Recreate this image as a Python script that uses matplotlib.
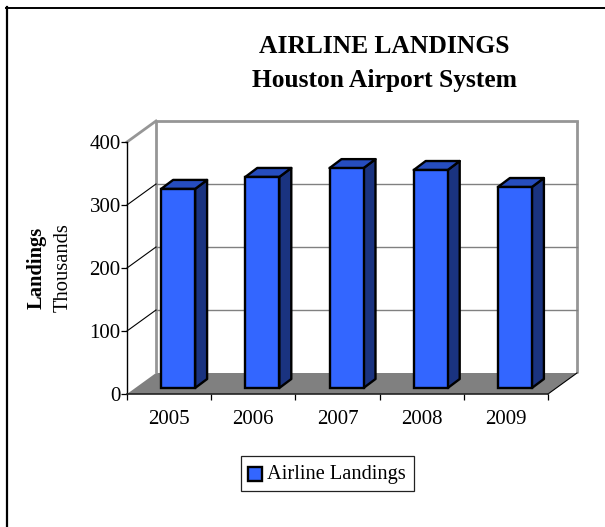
import matplotlib
matplotlib.use("Agg")
import matplotlib.pyplot as plt
from matplotlib.lines import Line2D
from matplotlib.patches import Polygon, Rectangle
from matplotlib.transforms import Affine2D

years = ["2005", "2006", "2007", "2008", "2009"]
landings = [316, 335, 349, 346, 319]
y_ticks = [0, 100, 200, 300, 400]

W, H = 605, 527
plt.rcParams["font.family"] = ["Liberation Serif"]
fig = plt.figure(figsize=(W / 100, H / 100), dpi=100, facecolor="white")

# front plane of the 3-D box, in pixels from top-left
L, R, T, B = 127, 548, 142, 394
ax = fig.add_axes([L / W, 1 - B / H, (R - L) / W, (B - T) / H])
ax.set_xlim(0, len(years))
ax.set_ylim(0, 400)
ax.patch.set_visible(False)
for s in ax.spines.values():
    s.set_visible(False)

px_x = len(years) / (R - L)
px_y = 400 / (B - T)
DX, DY = 29 * px_x, 21 * px_y  # box depth
ddx, ddy = 12 * px_x, 9 * px_y  # bar depth
GRAY = "#969696"
xmax = len(years)

# floor
ax.add_patch(Polygon([(0, 0), (xmax, 0), (xmax + DX, DY), (DX, DY)],
                     closed=True, fc="#808080", ec="none", zorder=1, clip_on=False))
# back walls and gridlines
ax.plot([DX, DX], [DY, 400 + DY], color=GRAY, lw=2.0, zorder=1, clip_on=False, solid_capstyle="butt")
ax.plot([xmax + DX, xmax + DX], [DY, 400 + DY], color=GRAY, lw=2.0, zorder=1, clip_on=False, solid_capstyle="butt")
ax.plot([DX, xmax + DX], [400 + DY, 400 + DY], color=GRAY, lw=2.0, zorder=1, clip_on=False, solid_capstyle="projecting")
for v in y_ticks[1:-1]:
    ax.plot([DX, xmax + DX], [v + DY, v + DY], color="#808080", lw=1.0, zorder=1, clip_on=False)
# diagonal edges
for v in y_ticks[1:-1]:
    ax.plot([0, DX], [v, v + DY], color="black", lw=0.8, zorder=1.5, clip_on=False)
ax.plot([0, DX], [400, 400 + DY], color=GRAY, lw=2.0, zorder=1.5, clip_on=False)
ax.plot([xmax, xmax + DX], [0, DY], color="black", lw=0.8, zorder=1.5, clip_on=False)

# bars
shift = Affine2D().translate(9, 6)
w = 34 * px_x
EC = "black"
LW = 1.7
centers = [i + 0.5 for i in range(len(years))]
ax.bar(centers, landings, width=w, color="#3366FF", edgecolor=EC, linewidth=LW,
       transform=ax.transData + shift, zorder=3, clip_on=False)
for c, v in zip(centers, landings):
    x1 = c + w / 2
    x0 = c - w / 2
    ax.add_patch(Polygon([(x1, 0), (x1 + ddx, ddy), (x1 + ddx, v + ddy), (x1, v)], closed=True,
                         fc="#1A3380", ec=EC, lw=LW, joinstyle="round",
                         transform=ax.transData + shift, zorder=2.9, clip_on=False))
    ax.add_patch(Polygon([(x0, v), (x1, v), (x1 + ddx, v + ddy), (x0 + ddx, v + ddy)], closed=True,
                         fc="#264DBF", ec=EC, lw=LW, joinstyle="round",
                         transform=ax.transData + shift, zorder=2.9, clip_on=False))

# axes
ax.plot([0, 0], [0, 400], color="black", lw=1.0, zorder=4, clip_on=False)
ax.plot([0, xmax], [0, 0], color="#222222", lw=1.2, zorder=4, clip_on=False)
ax.set_xticks(range(len(years) + 1))
ax.set_xticklabels([])
ax.set_yticks(y_ticks)
ax.set_yticklabels([str(v) for v in y_ticks], fontsize=15)
ax.tick_params(axis="both", length=4, width=0.9, color="black", zorder=4)
ax.tick_params(axis="y", pad=0.5)
for c, yr in zip(centers, years):
    ax.annotate(yr, (c, 0), xytext=(0, -11.5), textcoords="offset points", ha="center", va="top",
                fontsize=15, annotation_clip=False)

def px(x, y):
    return x / W, 1 - y / H

# title
fig.text(*px(384, 46.5), "AIRLINE LANDINGS", ha="center", va="center", fontsize=18.4, fontweight="bold")
fig.text(*px(384, 80.5), "Houston Airport System", ha="center", va="center", fontsize=18.4, fontweight="bold")

# y label
fig.text(*px(37, 268), "Landings", rotation=90, ha="center", va="center", fontsize=14.8, fontweight="bold")
fig.text(*px(63.5, 268), "Thousands", rotation=90, ha="center", va="center", fontsize=14.8)

# legend box
fig.add_artist(Rectangle(px(241, 491), 173 / W, 35 / H, transform=fig.transFigure,
                         fc="white", ec="#222222", lw=0.9))
fig.add_artist(Rectangle(px(248.5, 481), 13.5 / W, 14 / H, transform=fig.transFigure,
                         fc="#3366FF", ec="black", lw=1.7))
fig.text(*px(267, 475), "Airline Landings", ha="left", va="center", fontsize=14.7)

# outer frame (top and left edges only)
fig.add_artist(Line2D([7 / W, 7 / W], [0, 1 - 7 / H], transform=fig.transFigure, color="black", lw=1.6))
fig.add_artist(Line2D([6 / W, 1], [1 - 7.5 / H, 1 - 7.5 / H], transform=fig.transFigure, color="black", lw=1.4))

fig.savefig("out.png", dpi=100, facecolor="white")
